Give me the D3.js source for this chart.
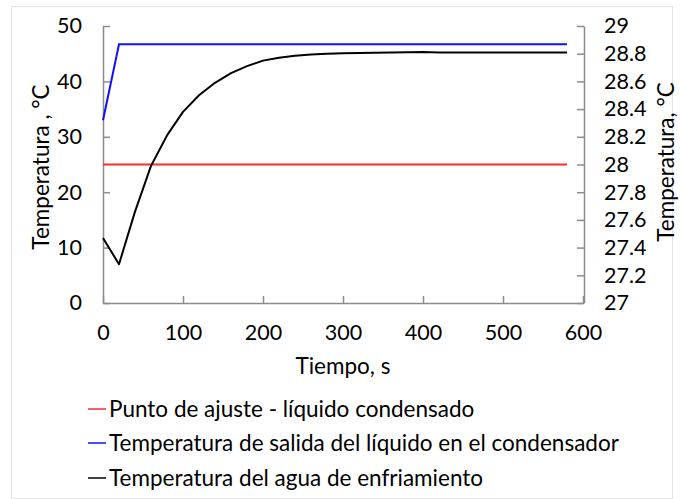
<!DOCTYPE html>
<html>
<head>
<meta charset="utf-8">
<script src="https://cdn.jsdelivr.net/npm/d3@7"></script>
<style>
  html, body { margin: 0; padding: 0; background: #fff; }
  svg { display: block; }
  text { font-family: Lato, "Open Sans", sans-serif; fill: #000; }
</style>
</head>
<body>
<svg id="chart" width="681" height="499"></svg>
<script>
// Time samples (s)
const time = [0, 20, 40, 60, 80, 100, 120, 140, 160, 180, 200, 220, 240, 260, 280,
              300, 320, 340, 360, 380, 400, 420, 440, 460, 480, 500, 520, 540, 560, 580];

// Set point of the condensed liquid (left axis, °C)
const setPoint = [25, 25, 25, 25, 25, 25, 25, 25, 25, 25, 25, 25, 25, 25, 25,
                  25, 25, 25, 25, 25, 25, 25, 25, 25, 25, 25, 25, 25, 25, 25];

// Liquid outlet temperature in the condenser (left axis, °C)
const outletTemp = [33, 46.7, 46.7, 46.7, 46.7, 46.7, 46.7, 46.7, 46.7, 46.7, 46.7, 46.7, 46.7, 46.7, 46.7,
                    46.7, 46.7, 46.7, 46.7, 46.7, 46.7, 46.7, 46.7, 46.7, 46.7, 46.7, 46.7, 46.7, 46.7, 46.7];

// Cooling water temperature (right axis, °C)
const coolingTemp = [27.47, 27.28, 27.66, 27.99, 28.21, 28.38, 28.50, 28.59, 28.66, 28.71, 28.75, 28.77,
                     28.785, 28.795, 28.80, 28.803, 28.805, 28.807, 28.809, 28.811, 28.813, 28.808,
                     28.808, 28.808, 28.808, 28.808, 28.808, 28.808, 28.808, 28.808];

const xTicks = [0, 100, 200, 300, 400, 500, 600];
const yLeftTicks = [0, 10, 20, 30, 40, 50];
const yRightTicks = [27, 27.2, 27.4, 27.6, 27.8, 28, 28.2, 28.4, 28.6, 28.8, 29];

const legendLabels = [
  "Punto de ajuste - líquido condensado",
  "Temperatura de salida del líquido en el condensador",
  "Temperatura del agua de enfriamiento"
];
const seriesColors = ["#ff2a2a", "#1010ff", "#000000"];

const svg = d3.select("#chart");

// outer frame
svg.append("rect")
  .attr("x", 11.5).attr("y", 6.5)
  .attr("width", 661).attr("height", 492)
  .attr("fill", "none").attr("stroke", "#e3e3e3").attr("stroke-width", 1);

const plot = { left: 103, right: 583, top: 26, bottom: 303 };

const x = d3.scaleLinear().domain([0, 600]).range([plot.left, plot.right]);
const yL = d3.scaleLinear().domain([0, 50]).range([plot.bottom, plot.top]);
const yR = d3.scaleLinear().domain([27, 29]).range([plot.bottom, plot.top]);

const axisColor = "#8c8c8c";
const tickFont = 21.5;
const titleFont = 22.5;

function styleAxis(g) {
  g.selectAll(".domain").attr("stroke", axisColor).attr("stroke-width", 1.5);
  g.selectAll(".tick line").attr("stroke", axisColor).attr("stroke-width", 1.5);
  g.selectAll(".tick text").style("font-size", tickFont + "px").attr("fill", "#000");
}

// x axis, ticks pointing into the plot
svg.append("g")
  .attr("transform", `translate(0,${plot.bottom})`)
  .call(d3.axisBottom(x).tickValues(xTicks).tickSizeInner(-7).tickSizeOuter(0).tickPadding(22))
  .call(styleAxis);

// left axis
svg.append("g")
  .attr("transform", `translate(${plot.left},0)`)
  .call(d3.axisLeft(yL).tickValues(yLeftTicks).tickSizeInner(-7).tickSizeOuter(0).tickPadding(21))
  .call(styleAxis);

// right axis
svg.append("g")
  .attr("transform", `translate(${plot.right + 1},0)`)
  .call(d3.axisRight(yR).tickValues(yRightTicks).tickFormat(d3.format("~g")).tickSizeInner(-7).tickSizeOuter(0).tickPadding(20))
  .call(styleAxis);

// axis titles
svg.append("text")
  .attr("x", (plot.left + plot.right) / 2).attr("y", 374)
  .attr("text-anchor", "middle")
  .style("font-size", titleFont + "px")
  .text("Tiempo, s");

svg.append("text")
  .attr("transform", `translate(49,167) rotate(-90)`)
  .attr("text-anchor", "middle")
  .style("font-size", titleFont + "px")
  .text("Temperatura , °C");

svg.append("text")
  .attr("transform", `translate(674,162) rotate(-90)`)
  .attr("text-anchor", "middle")
  .style("font-size", titleFont + "px")
  .text("Temperatura, °C");

// series lines
const lineL = d3.line().x((d, i) => x(time[i])).y(d => yL(d));
const lineR = d3.line().x((d, i) => x(time[i])).y(d => yR(d));

svg.append("path").datum(setPoint)
  .attr("d", lineL).attr("fill", "none")
  .attr("stroke", seriesColors[0]).attr("stroke-width", 2);

svg.append("path").datum(outletTemp)
  .attr("d", lineL).attr("fill", "none")
  .attr("stroke", seriesColors[1]).attr("stroke-width", 2);

svg.append("path").datum(coolingTemp)
  .attr("d", lineR).attr("fill", "none")
  .attr("stroke", seriesColors[2]).attr("stroke-width", 2)
  .attr("stroke-linejoin", "round");

// legend
const legendRows = [409, 443, 478];
const legend = svg.append("g");
legendLabels.forEach((label, i) => {
  legend.append("line")
    .attr("x1", 88).attr("x2", 106)
    .attr("y1", legendRows[i]).attr("y2", legendRows[i])
    .attr("stroke", seriesColors[i]).attr("stroke-width", 1.5);
  legend.append("text")
    .attr("x", 109).attr("y", legendRows[i])
    .attr("dy", "0.35em")
    .style("font-size", titleFont + "px")
    .text(label);
});
</script>
</body>
</html>
